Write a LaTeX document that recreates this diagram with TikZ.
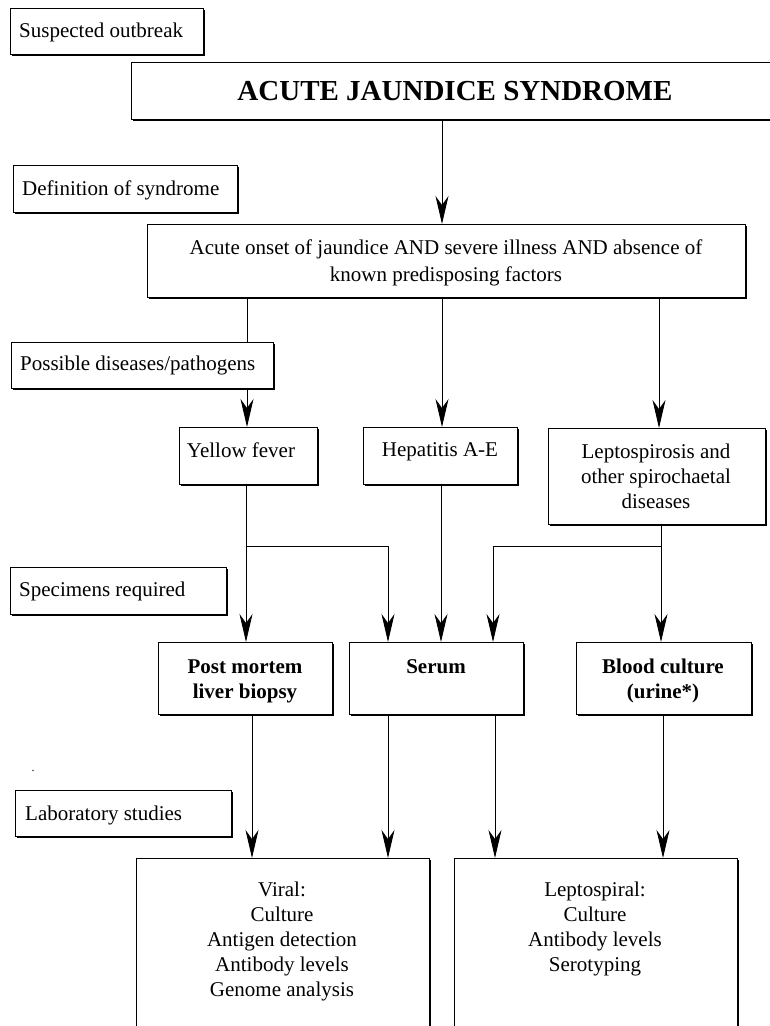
\documentclass[tikz,border=0pt]{standalone}
\usepackage{fontspec}
\setmainfont{Liberation Serif}
\usetikzlibrary{arrows.meta,shadows}
\newcommand\mkbox[5]{\node[box, minimum width={#4-#2}, minimum height={#5-#3}] (#1) at ({(#2+#4)/2},{(#3+#5)/2}) {};}
\begin{document}
\begin{tikzpicture}[x=1pt,y=-1pt,
  box/.style={draw, line width=1pt, fill=white, inner sep=0pt, outer sep=0pt,
    drop shadow={shadow xshift=1.8pt, shadow yshift=-1.8pt, fill=black, opacity=1}},
  txt/.style={inner sep=0pt, align=center, font=\fontsize{21}{25}\selectfont},
  btxt/.style={inner sep=0pt, align=center, font=\fontsize{21}{25}\selectfont\bfseries},
  ltxt/.style={inner sep=0pt, anchor=west, font=\fontsize{21}{25}\selectfont},
  ttxt/.style={inner sep=0pt, font=\fontsize{29}{34}\selectfont\bfseries},
  conn/.style={line width=0.9pt},
  arr/.style={conn, -{Stealth[length=28pt,width=13pt,inset=9pt]}}
]
\useasboundingbox (0,0) rectangle (770,1026);
\fill[white] (0,0) rectangle (770,1026);

% main boxes
\mkbox{title}{131}{62}{779}{119}
\mkbox{acute}{147}{224}{745}{297}
\mkbox{yf}{179}{427}{317}{484}
\mkbox{hep}{363}{427}{517}{484}
\mkbox{lepto}{548}{428}{765}{524}
\mkbox{pm}{158}{642}{332}{714}
\mkbox{serum}{349}{642}{523}{714}
\mkbox{blood}{576}{642}{751}{714}
\mkbox{viral}{136}{858}{429}{1045}
\mkbox{lepl}{454}{858}{737}{1045}

% x positions of connectors
\coordinate (xa) at (442,0);
\coordinate (xl) at (247,0);
\coordinate (xr) at (659,0);
\coordinate (xy) at (246,0);
\coordinate (xs1) at (388,0);
\coordinate (xh) at (441,0);
\coordinate (xlp) at (661,0);
\coordinate (xs2) at (493,0);
\coordinate (xpm) at (252,0);
\coordinate (xs3) at (495,0);
\coordinate (xb) at (663,0);
\coordinate (yb) at (0,546);

% connectors
\draw[arr] (title.south -| xa) -- (acute.north -| xa);
\draw[arr] (acute.south -| xl) -- (yf.north -| xl);
\draw[arr] (acute.south -| xa) -- (hep.north -| xa);
\draw[arr] (acute.south -| xr) -- (lepto.north -| xr);
\draw[arr] (yf.south -| xy) -- (pm.north -| xy);
\draw[arr] (yb -| xy) -| (serum.north -| xs1);
\draw[arr] (hep.south -| xh) -- (serum.north -| xh);
\draw[arr] (lepto.south -| xlp) -- (blood.north -| xlp);
\draw[arr] (yb -| xlp) -| (serum.north -| xs2);
\draw[arr] (pm.south -| xpm) -- (viral.north -| xpm);
\draw[arr] (serum.south -| xs1) -- (viral.north -| xs1);
\draw[arr] (serum.south -| xs3) -- (lepl.north -| xs3);
\draw[arr] (blood.south -| xb) -- (lepl.north -| xb);

% stage label boxes
\mkbox{susp}{10}{8}{203}{54}
\mkbox{def}{13}{165}{237}{212}
\mkbox{poss}{11}{342}{273}{388}
\mkbox{spec}{10}{567}{226}{614}
\mkbox{lab}{15}{790}{231}{836}

% texts
\node[ltxt] (susp-t) at (19,32) {Suspected outbreak};
\node[ltxt] (def-t) at (22,190) {Definition of syndrome};
\node[ltxt] (poss-t) at (20,365) {Possible diseases/pathogens};
\node[ltxt] (spec-t) at (19,591) {Specimens required};
\node[ltxt] (lab-t) at (25,815) {Laboratory studies};
\node[inner sep=0pt, font=\fontsize{12}{14}\selectfont] (dot) at (33,771) {.};

\node[ttxt] (title-t) at (455,91) {ACUTE JAUNDICE SYNDROME};
\node[txt, font=\fontsize{21}{27}\selectfont] (acute-t) at (446,263) {Acute onset of jaundice AND severe illness AND absence of\\known predisposing factors};
\node[txt] (yf-t) at (241,450) {Yellow fever};
\node[txt] (hep-t) at (440,452) {Hepatitis A-E};
\node[txt] (lepto-t) at (656,476) {Leptospirosis and\\other spirochaetal\\diseases};
\node[btxt] (pm-t) at (245,681) {Post mortem\\liver biopsy};
\node[btxt] (serum-t) at (436,667) {Serum};
\node[btxt] (blood-t) at (663,681) {Blood culture\\(urine*)};
\node[txt] (viral-t) at (282,941) {Viral:\\Culture\\Antigen detection\\Antibody levels\\Genome analysis};
\node[txt] (lepl-t) at (595,929) {Leptospiral:\\Culture\\Antibody levels\\Serotyping};
\end{tikzpicture}
\end{document}
